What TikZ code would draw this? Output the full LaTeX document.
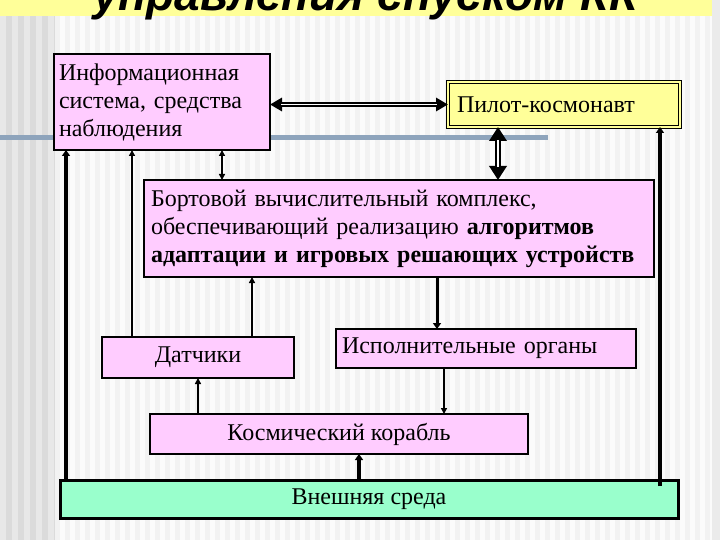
\documentclass[tikz,border=0pt]{standalone}
\usepackage{fontspec}
\setmainfont{Liberation Serif}
\newfontfamily\titlefont{Liberation Sans}
\usetikzlibrary{arrows.meta,positioning}
\definecolor{boxpink}{HTML}{FFCCFF}
\definecolor{pilotyellow}{HTML}{FFFF99}
\definecolor{envgreen}{HTML}{99FFCC}
\definecolor{rulegray}{HTML}{8EA4BC}

\begin{document}
\begin{tikzpicture}[
  x=1pt, y=-1pt,
  font=\fontsize{24}{28}\selectfont,
  blk/.style={draw=black, line width=2pt, fill=boxpink, inner sep=0pt, outer sep=0pt},
  pilotbox/.style={draw=black, line width=1pt, double=pilotyellow, double distance=2.5pt,
                   fill=pilotyellow, inner sep=0pt, outer sep=0pt},
  envbox/.style={draw=black, line width=3pt, fill=envgreen, inner sep=0pt, outer sep=0pt},
  dbl/.style={draw=black, line width=4.5pt,
              {Triangle[length=12pt,width=13pt]}-{Triangle[length=12pt,width=13pt]}},
  dblin/.style={draw=white, line width=1.6pt, shorten <=11pt, shorten >=11pt},
  dblbig/.style={draw=black, line width=5.5pt,
                 {Triangle[length=14pt,width=17pt]}-{Triangle[length=14pt,width=17pt]}},
  dblbigin/.style={draw=white, line width=2pt, shorten <=13pt, shorten >=13pt},
  thin/.style={draw=black, line width=1.5pt, -{Triangle[length=6pt,width=6pt]}},
  thick/.style={draw=black, line width=3.5pt, -{Triangle[length=6pt,width=8pt]}},
]
\clip (0,0) rectangle (720,540);

% Slide background: light stripes, darker band at the left.
\fill[black!5] (0,0) rectangle (720,540);
\foreach \x in {0,10,...,710} {
  \fill[white!70!black!5] (\x,0) rectangle (\x+5,540);
}
\fill[black!14] (0,0) rectangle (55,540);
\foreach \x in {0,12,...,48} {
  \fill[black!9] (\x,0) rectangle (\x+6,540);
}
\fill[black!8] (712,0) rectangle (720,540);
\fill[rulegray] (0,135.5) rectangle (548,140.5);

% Title band, cut off at the top.
\fill[pilotyellow] (0,0) rectangle (712,16);
\node[anchor=base west, inner sep=0pt, font=\titlefont\bfseries\itshape\fontsize{46}{50}\selectfont]
  (title) at (93,11) {управления спуском КК};

% Blocks of the control loop.
\node[blk, minimum width=216, minimum height=96, text width=206, align=left] (info) at (162,102)
  {Информационная\\система, средства\\наблюдения};
\node[pilotbox, minimum width=232, minimum height=45, text width=214, align=left] (pilot) at (564,104.5)
  {Пилот-космонавт};
\node[blk, minimum width=510, minimum height=97, text width=496, align=left] (bvk) at (399,228.5)
  {Бортовой вычислительный комплекс,\\обеспечивающий реализацию \textbf{алгоритмов}\\\textbf{адаптации и игровых решающих устройств}};
\node[blk, minimum width=192, minimum height=41] (sensors) at (198,357.5) {Датчики};
\node[blk, minimum width=300, minimum height=39, text width=288, align=left] (actuators) at (486,348.5)
  {Исполнительные органы};
\node[blk, minimum width=378, minimum height=40] (ship) at (339,434) {Космический корабль};
\node[envbox, minimum width=618, minimum height=38] (env) at (369,499) {Внешняя среда};

% Links between the blocks.
\draw[dbl] (info.east |- pilot.west) -- (pilot.west);
\draw[dblin] (info.east |- pilot.west) -- (pilot.west);
\draw[dblbig] (pilot.south -| 498,0) -- (bvk.north -| 498,0);
\draw[dblbigin] (pilot.south -| 498,0) -- (bvk.north -| 498,0);
\draw[draw=black, line width=1.5pt, {Triangle[length=6pt,width=6pt]}-{Triangle[length=6pt,width=6pt]}]
  (info.south -| 222,0) -- (bvk.north -| 222,0);
\draw[thick, line width=4pt] (env.north -| 66,0) -- (info.south -| 66,0);
\draw[thin] (sensors.north -| 132,0) -- (info.south -| 132,0);
\draw[thin] (sensors.north -| 252,0) -- (bvk.south -| 252,0);
\draw[thick, line width=3pt] (bvk.south -| 437,0) -- (actuators.north -| 437,0);
\draw[thin] (actuators.south -| 444,0) -- (ship.north -| 444,0);
\draw[thin] (ship.north -| sensors.south) -- (sensors.south);
\draw[thick] (env.north -| 359,0) -- (ship.south -| 359,0);
\draw[thick] ([yshift=-6]env.north -| 660,0) -- (pilot.south -| 660,0);
\end{tikzpicture}
\end{document}
